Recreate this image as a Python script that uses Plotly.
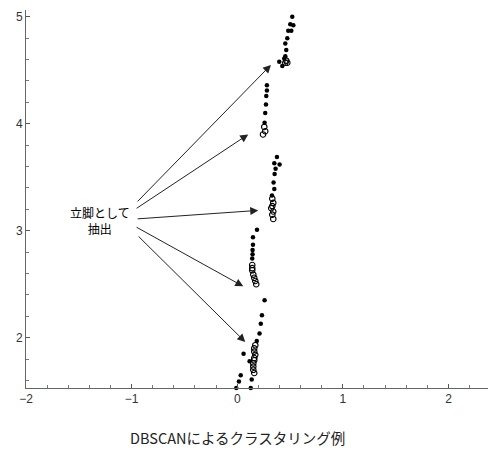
import plotly.graph_objects as go

# Core (filled) points
core_x = [0.521, 0.502, 0.531, 0.483, 0.512, 0.474, 0.455, 0.464, 0.455, 0.445, 0.398, 0.427,
          0.281, 0.281, 0.275, 0.272, 0.265, 0.259,
          0.376, 0.351, 0.401, 0.363, 0.354, 0.344, 0.351, 0.329,
          0.187, 0.149, 0.149, 0.145, 0.145, 0.142,
          0.259, 0.234, 0.223, 0.211, 0.185, 0.060, 0.117, 0.033, 0.016, -0.009, 0.137, 0.128]
core_y = [5.00, 4.93, 4.92, 4.87, 4.87, 4.80, 4.75, 4.69, 4.63, 4.61, 4.58, 4.54,
          4.36, 4.31, 4.26, 4.18, 4.10, 4.01,
          3.69, 3.63, 3.62, 3.58, 3.53, 3.45, 3.39, 3.33,
          3.01, 2.94, 2.87, 2.82, 2.78, 2.74,
          2.35, 2.21, 2.13, 2.04, 1.97, 1.85, 1.78, 1.65, 1.59, 1.53, 1.61, 1.53]

# Extracted stance (open) points
stance_x = [0.464, 0.474, 0.455,
            0.256, 0.265, 0.244,
            0.332, 0.341, 0.332, 0.322, 0.341, 0.332, 0.341,
            0.142, 0.142, 0.142, 0.152, 0.161, 0.171, 0.180,
            0.171, 0.161, 0.161, 0.171, 0.161, 0.161, 0.152, 0.152, 0.152, 0.161]
stance_y = [4.59, 4.57, 4.57,
            3.97, 3.93, 3.90,
            3.30, 3.26, 3.23, 3.21, 3.18, 3.15, 3.11,
            2.68, 2.65, 2.63, 2.59, 2.56, 2.53, 2.50,
            1.93, 1.90, 1.87, 1.84, 1.81, 1.79, 1.76, 1.73, 1.70, 1.67]

# Arrow heads and tails (data coordinates)
head_x = [0.319, 0.104, 0.199, 0.057, 0.076]
head_y = [4.55, 3.90, 3.19, 2.48, 1.96]
tail_x = [-0.957, -0.967, -0.957, -0.967, -0.948]
tail_y = [3.26, 3.20, 3.11, 3.04, 2.96]

label_text = "立脚として<br>抽出"
title_text = "DBSCANによるクラスタリング例"
x_ticks = [-2, -1, 0, 1, 2]
y_ticks = [2, 3, 4, 5]

fig = go.Figure()
fig.add_trace(go.Scatter(x=stance_x, y=stance_y, mode="markers",
                         marker=dict(symbol="circle-open", size=5.5, color="black",
                                     line=dict(width=1.1, color="black")),
                         cliponaxis=False, showlegend=False))
fig.add_trace(go.Scatter(x=core_x, y=core_y, mode="markers",
                         marker=dict(symbol="circle", size=4.5, color="black"),
                         cliponaxis=False, showlegend=False))

for hx, hy, tx, ty in zip(head_x, head_y, tail_x, tail_y):
    fig.add_annotation(x=hx, y=hy, ax=tx, ay=ty, xref="x", yref="y", axref="x", ayref="y",
                       showarrow=True, arrowhead=2, arrowsize=1.6, arrowwidth=1,
                       arrowcolor="#222", text="")

fig.add_annotation(x=-1.30, y=3.10, xref="x", yref="y", text=label_text, showarrow=False,
                   font=dict(family="Noto Sans CJK JP", size=12, color="black"),
                   align="center")

fig.add_annotation(x=0.0, y=-0.13, xref="x", yref="paper", text=title_text, showarrow=False,
                   xanchor="center", yanchor="middle",
                   font=dict(family="Noto Sans CJK JP", size=14.5, color="#222"))

fig.update_layout(
    width=488, height=446,
    margin=dict(l=18, r=0, t=2, b=66),
    plot_bgcolor="white", paper_bgcolor="white",
    font=dict(family="Liberation Sans", size=12, color="#333"),
)
fig.update_xaxes(range=[-2, 2.45], tickvals=x_ticks, ticks="inside", ticklen=4, tickcolor="#555",
                 showgrid=False, zeroline=False, showline=True, linecolor="#666", linewidth=1,
                 automargin=False,
                 minor=dict(dtick=0.2, ticks="inside", ticklen=3, tickcolor="#777"),
                 tickfont=dict(size=12, color="#333"))
fig.update_yaxes(range=[1.53, 5.063], tickvals=y_ticks, ticks="inside", ticklen=4, tickcolor="#555",
                 showgrid=False, zeroline=False, showline=True, linecolor="#666", linewidth=1,
                 automargin=False,
                 minor=dict(dtick=0.2, ticks="inside", ticklen=3, tickcolor="#777"),
                 tickfont=dict(size=12, color="#333"))

fig.write_html("out.html")
